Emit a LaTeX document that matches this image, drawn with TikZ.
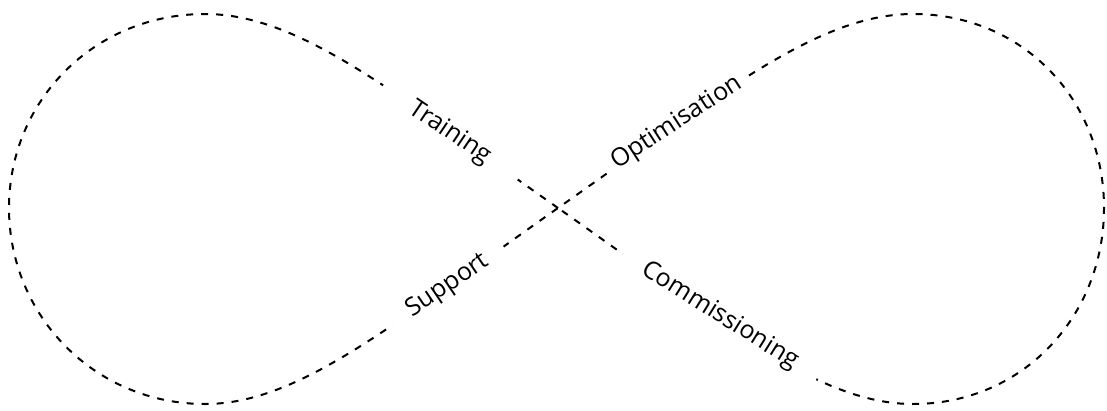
\documentclass[tikz,border=0pt]{standalone}
\usepackage{fontspec}
\setmainfont{Open Sans}
\begin{document}
\begin{tikzpicture}[x=1pt,y=-1pt,
  loopline/.style={line width=2pt, dash pattern=on 7pt off 8pt},
  lbl/.style={fill=white, inner sep=0pt, minimum height=26pt, font=\fontsize{25}{30}\selectfont}]
\useasboundingbox (0,0) rectangle (1107,410);
\coordinate (c) at (558,208);
\draw[loopline] (c) .. controls (394,93) and (300,14) .. (205,14)
 .. controls (95,14) and (9,100) .. (9,208)
 .. controls (9,316) and (95,404) .. (205,404)
 .. controls (300,404) and (394,323) .. (c)
 .. controls (722,93) and (818,14) .. (913,14)
 .. controls (1023,14) and (1104,100) .. (1104,208)
 .. controls (1104,316) and (1023,404) .. (913,404)
 .. controls (818,404) and (722,323) .. (c);
\node[lbl, rotate=-34, minimum width=164pt] (training) at (450,133) {Training};
\node[lbl, rotate=33, minimum width=166pt] (optim) at (677,123) {Optimisation};
\node[lbl, rotate=34, minimum width=136pt] (support) at (448,286) {Support};
\node[lbl, rotate=-32, minimum width=230pt] (commission) at (720,316) {Commissioning};
\end{tikzpicture}
\end{document}
